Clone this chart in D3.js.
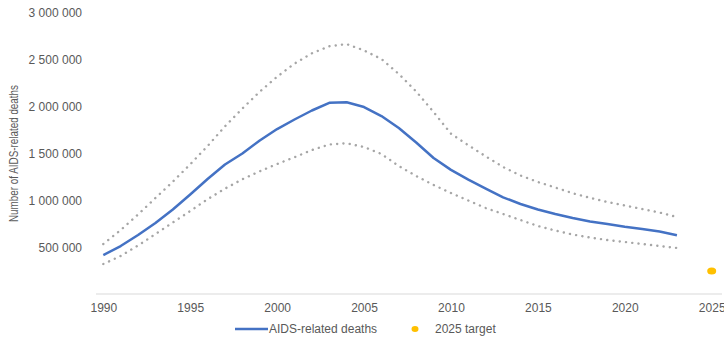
<!DOCTYPE html>
<html>
<head>
<meta charset="utf-8">
<script src="https://cdn.jsdelivr.net/npm/d3@7"></script>
<style>
  body { margin: 0; background: #fff; }
  text { font-family: "Liberation Sans", Arial, sans-serif; fill: #595959; }
</style>
</head>
<body>
<div id="chart"></div>
<script>
// values
var years = d3.range(1990, 2024);
var deaths = [416000, 512000, 630000, 758000, 902000, 1062000, 1228000, 1383000, 1500000, 1639000,
    1761000, 1863000, 1959000, 2041000, 2047000, 1996000, 1900000, 1772000, 1617000, 1452000,
    1325000, 1222000, 1126000, 1032000, 961000, 902000, 854000, 811000, 774000, 747000,
    717000, 694000, 667000, 627000];
var upper = [534000, 683000, 849000, 1025000, 1199000, 1385000, 1580000, 1790000, 1980000, 2160000,
    2320000, 2460000, 2570000, 2645000, 2668000, 2600000, 2509000, 2349000, 2162000, 1943000,
    1712000, 1588000, 1470000, 1356000, 1265000, 1196000, 1137000, 1076000, 1027000, 982000,
    945000, 907000, 870000, 822000];
var lower = [320000, 406000, 518000, 640000, 763000, 886000, 1012000, 1125000, 1225000, 1310000,
    1388000, 1460000, 1537000, 1596000, 1609000, 1569000, 1495000, 1366000, 1260000, 1164000,
    1078000, 998000, 918000, 854000, 790000, 726000, 678000, 635000, 603000, 576000,
    555000, 534000, 512000, 491000];
var targetYear = [2025];
var targetValue = [245000];
var xTicks = [1990, 1995, 2000, 2005, 2010, 2015, 2020, 2025];
var yTicks = [500000, 1000000, 1500000, 2000000, 2500000, 3000000];

var width = 724, height = 343;

var svg = d3.select("#chart")
    .append("svg")
    .attr("width", width)
    .attr("height", height);

var x = d3.scaleLinear().domain([1990, 2025]).range([103.3, 711.7]);
var y = d3.scaleLinear().domain([0, 3000000]).range([294, 13]);

// baseline
svg.append("line")
    .attr("x1", 96).attr("x2", 722)
    .attr("y1", y(0)).attr("y2", y(0))
    .style("stroke", "#d9d9d9")
    .style("stroke-width", 1);

// x axis labels
var xAxis = svg.append("g")
    .attr("transform", "translate(0," + y(0) + ")")
    .call(d3.axisBottom(x).tickValues(xTicks).tickFormat(d3.format("d")).tickSize(0).tickPadding(9));
xAxis.select(".domain").remove();
xAxis.selectAll("text").style("font-size", "12px").style("fill", "#595959");

// y axis labels
var fmt = function (d) { return d3.format(",")(d).replace(/,/g, " "); };
var yAxis = svg.append("g")
    .attr("transform", "translate(103,0)")
    .call(d3.axisLeft(y).tickValues(yTicks).tickFormat(fmt).tickSize(0).tickPadding(21));
yAxis.select(".domain").remove();
yAxis.selectAll("text").style("font-size", "12px").style("fill", "#595959");

// y title
svg.append("text")
    .attr("transform", "translate(18,153.5) rotate(-90)")
    .attr("text-anchor", "middle")
    .attr("textLength", 137)
    .attr("lengthAdjust", "spacingAndGlyphs")
    .style("font-family", "'Liberation Sans Narrow', 'Liberation Sans', sans-serif")
    .style("font-size", "12px")
    .text("Number of AIDS-related deaths");

var line = function (vals) {
    return d3.line()
        .x(function (d, i) { return x(years[i]); })
        .y(function (d) { return y(d); })(vals);
};

// uncertainty bounds
[upper, lower].forEach(function (s) {
    svg.append("path")
        .attr("d", line(s))
        .style("fill", "none")
        .style("stroke", "#a6a6a6")
        .style("stroke-width", 2.4)
        .style("stroke-linecap", "round")
        .style("stroke-dasharray", "0.1,6.2");
});

// central estimate
svg.append("path")
    .attr("d", line(deaths))
    .style("fill", "none")
    .style("stroke", "#4472c4")
    .style("stroke-width", 2.5)
    .style("stroke-linejoin", "round");

// 2025 target
svg.selectAll(".target")
    .data(targetYear)
    .enter()
    .append("ellipse")
    .attr("class", "target")
    .attr("cx", function (d) { return x(d); })
    .attr("cy", function (d, i) { return y(targetValue[i]); })
    .attr("rx", 4.5)
    .attr("ry", 3.5)
    .style("fill", "#ffc000");

// legend
var legend = svg.append("g");
legend.append("line")
    .attr("x1", 235).attr("x2", 268)
    .attr("y1", 329).attr("y2", 329)
    .style("stroke", "#4472c4")
    .style("stroke-width", 2.5);
legend.append("text")
    .attr("x", 269).attr("y", 329)
    .attr("dy", "0.35em")
    .style("font-size", "12px")
    .text("AIDS-related deaths");
legend.append("ellipse")
    .attr("cx", 415).attr("cy", 329)
    .attr("rx", 3.5).attr("ry", 3)
    .style("fill", "#ffc000");
legend.append("text")
    .attr("x", 435).attr("y", 329)
    .attr("dy", "0.35em")
    .style("font-size", "12px")
    .text("2025 target");
</script>
</body>
</html>
